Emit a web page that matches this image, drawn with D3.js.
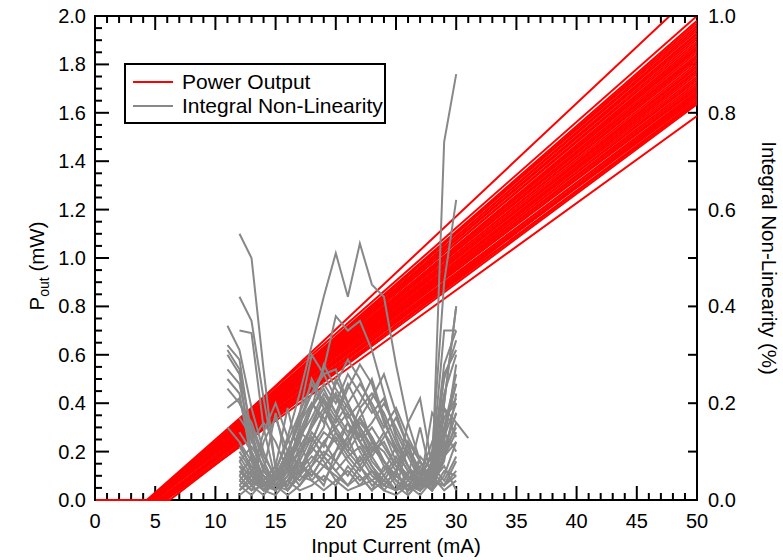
<!DOCTYPE html>
<html>
<head>
<meta charset="utf-8">
<script src="https://cdn.jsdelivr.net/npm/d3@7"></script>
<style>
  html, body { margin: 0; padding: 0; background: #fff; }
  svg { display: block; }
  text { font-family: "Liberation Sans", Arial, sans-serif; fill: #000; }
</style>
</head>
<body>
<svg id="chart" width="783" height="560"></svg>
<script>
// ---------------- DATA ----------------
const xTicks = [0, 5, 10, 15, 20, 25, 30, 35, 40, 45, 50];
const leftTicks = [0.0, 0.2, 0.4, 0.6, 0.8, 1.0, 1.2, 1.4, 1.6, 1.8, 2.0];
const rightTicks = [0.0, 0.2, 0.4, 0.6, 0.8, 1.0];

// Power output curves: threshold current (mA) and P_out at 50 mA (mW)
const redThreshold = [4.3, 4.9, 4.5, 4.6, 4.4, 4.7, 4.5, 4.8, 4.6, 4.4, 4.7, 4.5, 4.9, 4.6, 4.8,
  4.5, 4.7, 4.6, 4.4, 4.8, 4.5, 4.7, 4.9, 4.6, 4.5, 4.8, 4.7, 4.6, 5.0, 4.5, 4.8, 4.7, 4.9,
  4.6, 5.3, 4.8, 5.2, 5.4, 4.9, 5.6, 5.5, 5.8, 6.2, 5.9];
const redP50 = [2.0, 2.106, 1.98, 1.97, 1.96, 1.95, 1.94, 1.93, 1.925, 1.915, 1.905, 1.895, 1.885,
  1.875, 1.868, 1.86, 1.85, 1.84, 1.833, 1.825, 1.815, 1.805, 1.795, 1.787, 1.778, 1.77, 1.76,
  1.75, 1.742, 1.733, 1.724, 1.715, 1.706, 1.698, 1.69, 1.682, 1.674, 1.666, 1.658, 1.65, 1.643,
  1.635, 1.68, 1.587];

// Integral non-linearity curves (%), sampled every 1 mA starting at inlStart
const inlStart = [12, 12, 12, 11, 11, 11, 11, 11, 11, 12, 12, 12, 12, 12, 12, 12, 12,
  12, 12, 12, 12, 12, 12, 12, 12, 12, 11, 11, 12, 12, 12, 12, 11, 12];
const inlValues = [
  [0.55,0.50,0.27,0.06,0.03,0.07,0.05,0.09,0.06,0.03,0.07,0.04,0.02,0.05,0.03,0.06,0.04,0.03,0.05],
  [0.42,0.37,0.21,0.07,0.02,0.05,0.11,0.08,0.04,0.02,0.03,0.06,0.04,0.02,0.03,0.01,0.04,0.07,0.02],
  [0.35,0.345,0.15,0.04,0.08,0.12,0.06,0.03,0.10,0.13,0.07,0.03,0.05,0.02,0.06,0.04,0.02,0.09,0.12],
  [0.32,0.29,0.13,0.03,0.05,0.10,0.16,0.20,0.17,0.12,0.08,0.05,0.02,0.04,0.08,0.05,0.02,0.06,0.15,0.24],
  [0.30,0.26,0.09,0.02,0.06,0.12,0.18,0.24,0.19,0.15,0.18,0.12,0.07,0.03,0.02,0.05,0.03,0.08,0.22,0.30],
  [0.27,0.24,0.12,0.16,0.12,0.06,0.14,0.12,0.18,0.22,0.16,0.10,0.06,0.03,0.06,0.02,0.04,0.10,0.17,0.20],
  [0.23,0.20,0.15,0.08,0.03,0.04,0.09,0.16,0.21,0.14,0.11,0.17,0.13,0.08,0.04,0.02,0.05,0.12,0.09,0.16],
  [0.19,0.21,0.10,0.04,0.07,0.02,0.06,0.11,0.15,0.25,0.20,0.14,0.09,0.05,0.02,0.04,0.08,0.03,0.19,0.13],
  [0.15,0.12,0.06,0.02,0.04,0.09,0.13,0.19,0.23,0.18,0.24,0.19,0.12,0.08,0.05,0.03,0.02,0.07,0.28,0.35],
  [0.12,0.08,0.03,0.05,0.10,0.16,0.22,0.26,0.21,0.17,0.20,0.25,0.17,0.10,0.06,0.04,0.02,0.20,0.40],
  [0.05,0.02,0.03,0.06,0.13,0.22,0.32,0.42,0.51,0.42,0.53,0.445,0.42,0.28,0.16,0.08,0.04,0.03,0.06],
  [0.02,0.04,0.03,0.05,0.10,0.17,0.22,0.27,0.38,0.35,0.37,0.31,0.22,0.13,0.07,0.03,0.05,0.02,0.04],
  [0.06,0.03,0.01,0.04,0.09,0.18,0.30,0.26,0.27,0.20,0.15,0.11,0.08,0.05,0.03,0.06,0.05,0.74,0.88],
  [0.09,0.05,0.02,0.03,0.07,0.12,0.19,0.24,0.20,0.26,0.22,0.18,0.21,0.14,0.09,0.04,0.10,0.45,0.62],
  [0.04,0.07,0.05,0.02,0.05,0.11,0.15,0.21,0.17,0.23,0.28,0.24,0.16,0.11,0.07,0.02,0.08,0.35,0.35],
  [0.08,0.04,0.06,0.03,0.02,0.06,0.12,0.18,0.24,0.29,0.25,0.19,0.14,0.08,0.05,0.03,0.06,0.20,0.40],
  [0.03,0.06,0.02,0.04,0.08,0.14,0.20,0.16,0.22,0.18,0.13,0.16,0.20,0.15,0.10,0.05,0.03,0.19,0.16,0.128],
  [0.10,0.06,0.04,0.02,0.05,0.09,0.14,0.11,0.17,0.13,0.19,0.22,0.18,0.12,0.07,0.04,0.02,0.12,0.28],
  [0.07,0.03,0.12,0.17,0.10,0.07,0.10,0.14,0.12,0.16,0.12,0.09,0.13,0.17,0.11,0.06,0.03,0.08,0.22],
  [0.02,0.05,0.14,0.20,0.13,0.05,0.08,0.12,0.15,0.11,0.08,0.12,0.10,0.06,0.12,0.08,0.04,0.15,0.26],
  [0.05,0.09,0.04,0.02,0.06,0.04,0.07,0.10,0.08,0.12,0.16,0.13,0.08,0.05,0.16,0.21,0.07,0.10,0.18],
  [0.11,0.07,0.02,0.05,0.03,0.08,0.05,0.09,0.13,0.09,0.06,0.10,0.14,0.10,0.06,0.03,0.18,0.14,0.10],
  [0.04,0.02,0.06,0.18,0.07,0.10,0.15,0.19,0.14,0.10,0.14,0.08,0.05,0.09,0.04,0.07,0.02,0.05,0.12],
  [0.08,0.11,0.07,0.03,0.01,0.03,0.06,0.04,0.08,0.05,0.09,0.05,0.03,0.06,0.10,0.05,0.09,0.25,0.33],
  [0.03,0.01,0.04,0.07,0.19,0.08,0.04,0.07,0.05,0.03,0.05,0.02,0.07,0.04,0.02,0.09,0.06,0.03,0.08],
  [0.06,0.04,0.02,0.01,0.04,0.02,0.03,0.05,0.03,0.07,0.04,0.06,0.02,0.01,0.03,0.02,0.04,0.09,0.14],
  [0.25,0.22,0.08,0.03,0.02,0.04,0.08,0.13,0.09,0.14,0.10,0.07,0.11,0.08,0.04,0.02,0.03,0.06,0.17,0.21],
  [0.36,0.31,0.19,0.10,0.04,0.06,0.03,0.07,0.12,0.08,0.13,0.17,0.12,0.07,0.03,0.01,0.04,0.02,0.10,0.15],
  [0.14,0.10,0.05,0.02,0.04,0.06,0.09,0.07,0.10,0.16,0.12,0.15,0.11,0.07,0.05,0.15,0.04,0.13,0.20],
  [0.01,0.03,0.05,0.03,0.06,0.10,0.13,0.09,0.06,0.09,0.11,0.07,0.04,0.02,0.12,0.03,0.07,0.04,0.09],
  [0.07,0.05,0.03,0.06,0.02,0.05,0.04,0.02,0.04,0.06,0.03,0.04,0.06,0.11,0.01,0.04,0.02,0.06,0.05],
  [0.20,0.16,0.09,0.05,0.08,0.13,0.17,0.22,0.18,0.14,0.17,0.21,0.26,0.18,0.11,0.06,0.05,0.14,0.24],
  [0.31,0.27,0.14,0.06,0.03,0.07,0.13,0.19,0.28,0.23,0.19,0.15,0.10,0.12,0.07,0.04,0.02,0.05,0.26,0.31],
  [0.17,0.13,0.06,0.04,0.07,0.15,0.25,0.20,0.16,0.20,0.24,0.20,0.15,0.19,0.13,0.08,0.04,0.11,0.18]
];

const legendLabels = ["Power Output", "Integral Non-Linearity"];
const colors = { power: "#ff0000", inl: "#888888" };

// ---------------- LAYOUT ----------------
const svg = d3.select("#chart");
const L = 95, R = 697, T = 16, B = 500;
const x = d3.scaleLinear().domain([0, 50]).range([L, R]);
const yL = d3.scaleLinear().domain([0, 2]).range([B, T]);
const yR = d3.scaleLinear().domain([0, 1]).range([B, T]);
const FS = 20, FT = 20.5, FL = 21;

svg.append("defs").append("clipPath").attr("id", "plotclip")
  .append("rect").attr("x", L + 1).attr("y", T + 1).attr("width", R - L - 1).attr("height", B - T + 1);

// ---------------- AXES ----------------
const axG = svg.append("g");
const majorLen = 14, minorLen = 7;
d3.range(0, 51, 1).forEach(v => {
  const len = v % 5 === 0 ? majorLen : minorLen;
  axG.append("line").attr("x1", x(v)).attr("x2", x(v)).attr("y1", B).attr("y2", B - len)
    .attr("stroke", "#000").attr("stroke-width", 2);
  axG.append("line").attr("x1", x(v)).attr("x2", x(v)).attr("y1", T).attr("y2", T + len)
    .attr("stroke", "#000").attr("stroke-width", 2);
});
d3.range(0, 41, 1).map(i => i * 0.05).forEach((v, i) => {
  const len = i % 4 === 0 ? majorLen : minorLen;
  axG.append("line").attr("x1", L).attr("x2", L + len).attr("y1", yL(v)).attr("y2", yL(v))
    .attr("stroke", "#000").attr("stroke-width", 2);
});
d3.range(0, 11, 1).map(i => i * 0.1).forEach(v => {
  axG.append("line").attr("x1", R).attr("x2", R - 9).attr("y1", yR(v)).attr("y2", yR(v))
    .attr("stroke", "#000").attr("stroke-width", 2);
});
axG.append("rect").attr("x", L).attr("y", T).attr("width", R - L).attr("height", B - T)
  .attr("fill", "none").attr("stroke", "#000").attr("stroke-width", 2);

// ---------------- DATA LINES ----------------
const plot = svg.append("g").attr("clip-path", "url(#plotclip)");
const lineL = d3.line().x(d => x(d[0])).y(d => yL(d[1]));
const lineR = d3.line().x(d => x(d[0])).y(d => yR(d[1]));

redThreshold.forEach((th, i) => {
  const pts = [[0, 0], [th, 0], [50, redP50[i]]];
  plot.append("path").attr("d", lineL(pts)).attr("fill", "none")
    .attr("stroke", colors.power).attr("stroke-width", 2);
});

inlValues.forEach((vals, i) => {
  const pts = vals.map((v, j) => [inlStart[i] + j, v]);
  plot.append("path").attr("d", lineR(pts)).attr("fill", "none")
    .attr("stroke", colors.inl).attr("stroke-width", 2).attr("stroke-linejoin", "miter");
});

// ---------------- LABELS ----------------
xTicks.forEach(v => {
  svg.append("text").attr("x", x(v)).attr("y", B + 28).attr("text-anchor", "middle")
    .attr("font-size", FS).text(v);
});
leftTicks.forEach(v => {
  svg.append("text").attr("x", L - 9).attr("y", yL(v) + 7).attr("text-anchor", "end")
    .attr("font-size", FS).text(v.toFixed(1));
});
rightTicks.forEach(v => {
  svg.append("text").attr("x", R + 11).attr("y", yR(v) + 7).attr("text-anchor", "start")
    .attr("font-size", FS).text(v.toFixed(1));
});

svg.append("text").attr("x", (L + R) / 2).attr("y", 553).attr("text-anchor", "middle")
  .attr("font-size", FT).text("Input Current (mA)");

const lt = svg.append("text").attr("transform", `translate(44,${(T + B) / 2 + 8}) rotate(-90)`)
  .attr("text-anchor", "middle").attr("font-size", FT);
lt.append("tspan").text("P");
lt.append("tspan").attr("font-size", 14).attr("dy", 5).text("out");
lt.append("tspan").attr("dy", -5).text(" (mW)");

svg.append("text").attr("transform", `translate(762,${(T + B) / 2}) rotate(90)`)
  .attr("text-anchor", "middle").attr("font-size", FT).text("Integral Non-Linearity (%)");

// ---------------- LEGEND ----------------
const lg = svg.append("g");
lg.append("rect").attr("x", 125).attr("y", 64).attr("width", 260).attr("height", 59)
  .attr("fill", "#fff").attr("stroke", "#000").attr("stroke-width", 2);
[colors.power, colors.inl].forEach((c, i) => {
  const yy = 82 + i * 24;
  lg.append("line").attr("x1", 133).attr("x2", 173).attr("y1", yy).attr("y2", yy)
    .attr("stroke", c).attr("stroke-width", 2);
  lg.append("text").attr("x", 182).attr("y", yy + 7).attr("font-size", FL).text(legendLabels[i]);
});
</script>
</body>
</html>
